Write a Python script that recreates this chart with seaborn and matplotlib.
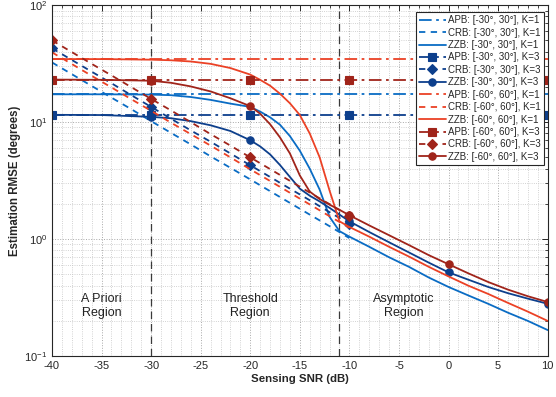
import numpy as np
import pandas as pd
import matplotlib
matplotlib.use("Agg")
import matplotlib.pyplot as plt
from matplotlib.ticker import MultipleLocator, LogLocator, NullFormatter
import seaborn as sns

# ---------------- data ----------------
snr_apb = [-40, -30, -20, -10, 0, 10]
apb_30_k1 = [17.3, 17.3, 17.3, 17.3, 17.3, 17.3]
apb_30_k3 = [11.55, 11.55, 11.55, 11.55, 11.55, 11.55]
apb_60_k1 = [34.6, 34.6, 34.6, 34.6, 34.6, 34.6]
apb_60_k3 = [23.1, 23.1, 23.1, 23.1, 23.1, 23.1]

snr_crb = [-40, -38, -36, -34, -32, -30, -28, -26, -24, -22, -20, -18, -16, -14, -12, -10]
crb_30_k1 = [32.4, 25.7, 20.4, 16.2, 12.9, 10.2, 8.1, 6.45, 5.1, 4.07, 3.24, 2.57, 2.04, 1.62, 1.29, 1.02]
crb_30_k3 = [42.8, 34.0, 27.0, 21.5, 17.0, 13.5, 10.7, 8.5, 6.8, 5.4, 4.28, 3.4, 2.7, 2.15, 1.7, 1.35]
crb_60_k1 = [39.5, 31.4, 24.9, 19.8, 15.7, 12.5, 9.9, 7.9, 6.3, 5.0, 3.95, 3.14, 2.49, 1.98, 1.57, 1.25]
crb_60_k3 = [50.0, 39.7, 31.5, 25.1, 19.9, 15.8, 12.6, 10.0, 7.9, 6.3, 5.0, 3.97, 3.15, 2.5, 1.99, 1.58]

snr_zzb = [-40, -35, -30, -28, -26, -24, -22, -20, -19, -18, -17, -16, -15, -14,
           -13, -12, -11, -10, -8, -6, -4, -2, 0, 2, 4, 6, 8, 10]
zzb_30_k1 = [17.3, 17.3, 17.2, 17.0, 16.4, 15.5, 14.4, 13.5, 12.3, 11.0, 9.5, 7.6, 5.7, 4.0,
             2.65, 1.55, 1.17, 1.05, 0.86, 0.70, 0.58, 0.47, 0.39, 0.33, 0.28, 0.235, 0.20, 0.167]
zzb_30_k3 = [11.55, 11.5, 11.1, 10.8, 10.2, 9.4, 8.4, 7.0, 6.2, 5.3, 4.3, 3.4, 2.7, 2.35,
             2.1, 1.85, 1.62, 1.42, 1.15, 0.94, 0.77, 0.63, 0.52, 0.45, 0.39, 0.345, 0.31, 0.28]
zzb_60_k1 = [34.6, 34.6, 34.2, 33.8, 33.0, 31.5, 29.0, 25.5, 23.0, 20.5, 17.5, 14.5, 11.5, 8.0,
             5.0, 2.6, 1.42, 1.27, 1.05, 0.86, 0.71, 0.58, 0.48, 0.40, 0.34, 0.285, 0.24, 0.20]
zzb_60_k3 = [23.1, 23.0, 22.6, 21.7, 20.2, 18.3, 16.0, 13.7, 11.8, 9.6, 7.4, 5.4, 3.5, 2.55,
             2.2, 1.97, 1.78, 1.6, 1.31, 1.08, 0.89, 0.73, 0.61, 0.51, 0.43, 0.37, 0.325, 0.29]

# ---------------- style ----------------
sns.set_theme(style="white")
plt.rcParams['font.family'] = ['Liberation Sans', 'DejaVu Sans']
plt.rcParams['axes.unicode_minus'] = False

light_blue = "#0A6CC4"
dark_blue = "#0D3F8C"
light_red = "#EB4125"
dark_red = "#A0241A"

fig = plt.figure(figsize=(5.56, 3.97), dpi=100)
ax = fig.add_axes([0.0935, 0.103, 0.8915, 0.884])

dashdot = (0, (7, 2.5, 1.5, 2.5))
dashed = (0, (3.5, 3))

zzb_marks = [i for i, s in enumerate(snr_zzb) if s % 10 == 0]
crb_marks = [i for i, s in enumerate(snr_crb) if s % 10 == 0]

series = [
    (snr_apb, apb_30_k1, light_blue, dashdot, None, None, "APB: [-30°, 30°], K=1"),
    (snr_crb, crb_30_k1, light_blue, dashed, None, None, "CRB: [-30°, 30°], K=1"),
    (snr_zzb, zzb_30_k1, light_blue, "-", None, None, "ZZB: [-30°, 30°], K=1"),
    (snr_apb, apb_30_k3, dark_blue, dashdot, "s", None, "APB: [-30°, 30°], K=3"),
    (snr_crb, crb_30_k3, dark_blue, dashed, "D", crb_marks, "CRB: [-30°, 30°], K=3"),
    (snr_zzb, zzb_30_k3, dark_blue, "-", "o", zzb_marks, "ZZB: [-30°, 30°], K=3"),
    (snr_apb, apb_60_k1, light_red, dashdot, None, None, "APB: [-60°, 60°], K=1"),
    (snr_crb, crb_60_k1, light_red, dashed, None, None, "CRB: [-60°, 60°], K=1"),
    (snr_zzb, zzb_60_k1, light_red, "-", None, None, "ZZB: [-60°, 60°], K=1"),
    (snr_apb, apb_60_k3, dark_red, dashdot, "s", None, "APB: [-60°, 60°], K=3"),
    (snr_crb, crb_60_k3, dark_red, dashed, "D", crb_marks, "CRB: [-60°, 60°], K=3"),
    (snr_zzb, zzb_60_k3, dark_red, "-", "o", zzb_marks, "ZZB: [-60°, 60°], K=3"),
]

for x, y, color, ls, marker, every, label in series:
    kws = dict(color=color, linestyle=ls, linewidth=1.3, label=label)
    if marker is not None:
        kws.update(marker=marker, markersize=5.3 if marker != "D" else 4.6,
                   markeredgecolor=color, markerfacecolor=color, markeredgewidth=0.8)
        if every is not None:
            kws["markevery"] = every
    sns.lineplot(x=x, y=y, ax=ax, **kws)

# region separators
for xv in [-30, -11]:
    ax.axvline(xv, color="#3a3a3a", linestyle=(0, (6, 4)), linewidth=0.9, zorder=1)

ax.text(-35, 0.27, "A Priori\nRegion", ha="center", va="center", fontsize=9, color="#222222")
ax.text(-20, 0.27, "Threshold\nRegion", ha="center", va="center", fontsize=9, color="#222222")
ax.text(-4.5, 0.27, "Asymptotic\nRegion", ha="center", va="center", fontsize=9, color="#222222")

ax.set_yscale("log")
ax.set_xlim(-40, 10)
ax.set_ylim(0.1, 100)
ax.xaxis.set_major_locator(MultipleLocator(5))
ax.xaxis.set_minor_locator(MultipleLocator(1))
ax.yaxis.set_major_locator(LogLocator(base=10))
ax.yaxis.set_minor_locator(LogLocator(base=10, subs=np.arange(2, 10)))
ax.yaxis.set_minor_formatter(NullFormatter())

ax.grid(True, which="major", linestyle=":", color="#a8a8a8", linewidth=0.7)
ax.grid(True, which="minor", linestyle=":", color="#c4c4c4", linewidth=0.6)
ax.set_axisbelow(True)

ax.tick_params(which="both", direction="in", top=True, right=True,
               labelsize=8, colors="#262626")
ax.tick_params(which="major", length=4, width=0.7)
ax.tick_params(which="minor", length=2, width=0.6)
for sp in ax.spines.values():
    sp.set_color("#262626")
    sp.set_linewidth(0.8)

ax.set_xlabel("Sensing SNR (dB)", fontsize=8.2, fontweight="bold", labelpad=2)
ax.set_ylabel("Estimation RMSE (degrees)", fontsize=8.3, fontweight="bold", labelpad=2)

leg = ax.legend(loc="upper right", bbox_to_anchor=(0.992, 0.98), borderaxespad=0,
                fontsize=7.0, frameon=True, fancybox=False, framealpha=1,
                edgecolor="#262626", handlelength=2.8, handletextpad=0.2,
                labelspacing=0.25, borderpad=0.3)
leg.get_frame().set_linewidth(0.8)

fig.savefig("out.png", dpi=100)
